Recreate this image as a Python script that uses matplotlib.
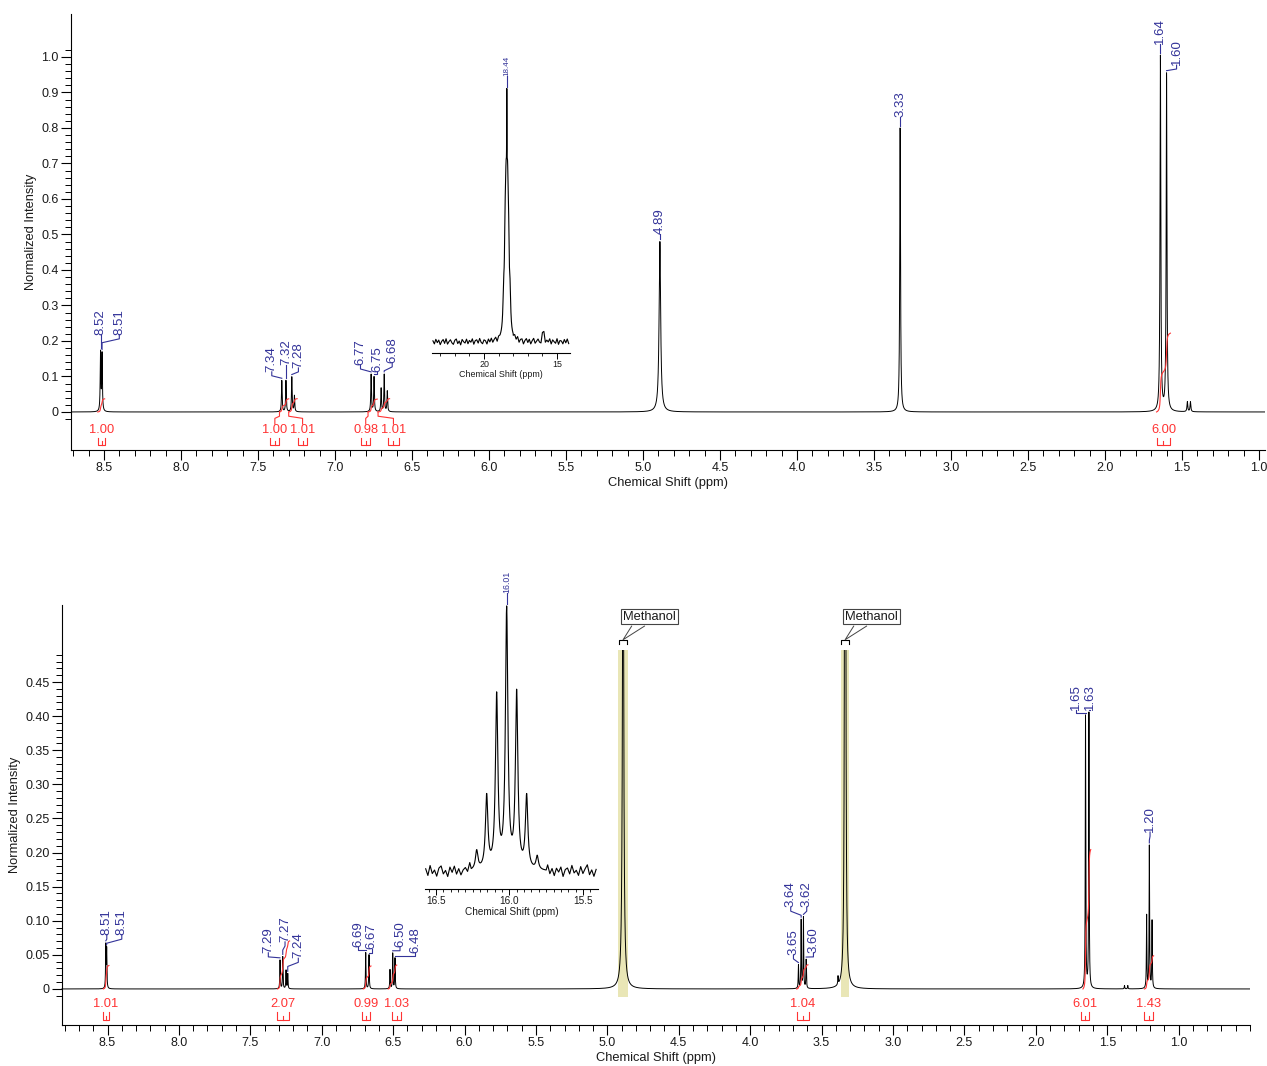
import matplotlib.pyplot as plt
import numpy as np
from matplotlib.patches import Rectangle

plt.rcParams['font.family'] = ['Liberation Sans', 'DejaVu Sans']

BLUE = '#333399'
RED = '#ff3333'
KHAKI = '#e9e6b6'
INK = '#1a1a1a'

# ---------------- upper spectrum: peaks (ppm, height, half width) ----------------
top_shift = [8.522, 8.512, 7.345, 7.318, 7.280, 7.263, 6.765, 6.746, 6.700, 6.680, 6.660,
             4.890, 3.330, 1.640, 1.600, 1.465, 1.445]
top_height = [0.165, 0.160, 0.088, 0.088, 0.098, 0.045, 0.105, 0.098, 0.066, 0.105, 0.058,
              0.480, 0.800, 1.000, 0.950, 0.028, 0.028]
top_width = [0.0025] * 11 + [0.006, 0.003, 0.003, 0.003, 0.003, 0.003]

top_peak_text = ['8.52', '8.51', '7.34', '7.32', '7.28', '6.77', '6.75', '6.68',
                 '4.89', '3.33', '1.64', '1.60']
top_peak_at = [8.522, 8.512, 7.345, 7.318, 7.280, 6.765, 6.746, 6.680, 4.890, 3.330, 1.640, 1.600]

top_int_from = [8.540, 7.360, 7.300, 6.785, 6.720, 1.665]
top_int_to = [8.495, 7.300, 7.245, 6.725, 6.645, 1.575]
top_int_value = ['1.00', '1.00', '1.01', '0.98', '1.01', '6.00']

# inset of the upper spectrum (23.5 - 14 ppm)
ins1_shift = [18.66, 18.56, 18.49, 18.44, 18.39, 18.32, 18.22, 15.95]
ins1_height = [0.12, 0.25, 0.45, 0.37, 0.45, 0.25, 0.12, 0.06]
ins1_width = [0.05, 0.05, 0.06, 0.012, 0.06, 0.05, 0.05, 0.05]
ins1_noise_left = [0.004, -0.008, 0.010, -0.003, 0.007, -0.011, 0.002, 0.009, -0.006, 0.012,
                   -0.009, 0.001, 0.008, -0.004, -0.010, 0.006, 0.011, -0.007, 0.003, -0.012,
                   0.009, 0.000, -0.005, 0.010, -0.008, 0.005, -0.002, 0.011, -0.010, 0.004,
                   0.007, -0.006, 0.012, -0.003, -0.009, 0.006, 0.002, -0.011, 0.008, -0.004,
                   0.010, -0.007, 0.003, 0.009, -0.010, 0.005, -0.001]
ins1_noise_right = [-0.006, 0.009, -0.003, 0.011, -0.009, 0.004, 0.007, -0.012, 0.002, 0.010,
                    -0.005, 0.008, -0.010, 0.003, 0.012, -0.007, 0.001, 0.009, -0.004, -0.011,
                    0.006, 0.010, -0.008, 0.004, -0.002, 0.011, -0.009, 0.007, 0.000, -0.006,
                    0.012, -0.010, 0.005, 0.003, -0.008, 0.009, -0.004, 0.011, -0.007]

# ---------------- lower spectrum ----------------
bot_shift = [8.512, 8.506, 7.292, 7.273, 7.250, 7.238, 6.692, 6.669, 6.522, 6.503, 6.487,
             4.890, 3.662, 3.643, 3.627, 3.608, 3.385, 3.335,
             1.652, 1.628, 1.379, 1.356, 1.224, 1.205, 1.186]
bot_height = [0.062, 0.056, 0.042, 0.047, 0.027, 0.022, 0.053, 0.050, 0.028, 0.052, 0.045,
              0.800, 0.034, 0.100, 0.104, 0.042, 0.012, 3.000,
              0.399, 0.404, 0.005, 0.005, 0.107, 0.209, 0.099]
bot_width = [0.002] * 11 + [0.005] + [0.002] * 5 + [0.0025] + [0.002] * 7

bot_peak_text = ['8.51', '8.51', '7.29', '7.27', '7.24', '6.69', '6.67', '6.50', '6.48',
                 '3.65', '3.64', '3.62', '3.60', '1.65', '1.63', '1.20']
bot_peak_at = [8.512, 8.506, 7.292, 7.273, 7.238, 6.692, 6.669, 6.503, 6.487,
               3.662, 3.643, 3.627, 3.608, 1.652, 1.628, 1.205]

bot_int_from = [8.530, 7.310, 6.710, 6.535, 3.675, 1.670, 1.240]
bot_int_to = [8.490, 7.225, 6.655, 6.475, 3.595, 1.615, 1.175]
bot_int_value = ['1.01', '2.07', '0.99', '1.03', '1.04', '6.01', '1.43']

solvent_shift = [4.890, 3.335]
solvent_name = ['Methanol', 'Methanol']

# inset of the lower spectrum (16.5 - 15.5 ppm)
ins2_shift = [16.223, 16.155, 16.087, 16.019, 15.951, 15.883, 15.811]
ins2_height = [0.07, 0.27, 0.64, 0.96, 0.65, 0.27, 0.05]
ins2_width = [0.010] * 7
ins2_noise_left = [0.010, -0.015, 0.022, -0.008, 0.005, -0.018, 0.012, 0.020, -0.010, 0.003,
                   -0.020, 0.015, -0.005, 0.018, -0.012, 0.008, -0.016, 0.002, 0.010, -0.006, 0.025]
ins2_noise_right = [0.020, -0.012, 0.008, -0.018, 0.010, -0.004, 0.015, -0.020, 0.006, 0.012,
                    -0.010, 0.022, -0.006, 0.004, -0.015, 0.018, -0.008, 0.010, 0.025, -0.012,
                    0.006, -0.018, 0.008]

# ---------------- label layout (ppm / intensity of the label foot) ----------------
top_label_x = [8.522, 8.40, 7.41, 7.318, 7.237, 6.834, 6.726, 6.628, 4.89, 3.33, 1.64, 1.535]
top_label_y = [0.217, 0.217, 0.113, 0.132, 0.124, 0.132, 0.113, 0.138, 0.50, 0.83, 1.035, 0.977]
top_int_lx = [8.515, 7.39, 7.21, 6.80, 6.62, 1.62]
top_int_leader = [False, True, True, True, True, False]

bot_label_x = [8.505, 8.40, 7.374, 7.257, 7.164, 6.744, 6.65, 6.452, 6.347,
               3.697, 3.716, 3.604, 3.557, 1.718, 1.62, 1.20]
bot_label_y = [0.079, 0.079, 0.053, 0.069, 0.045, 0.062, 0.058, 0.062, 0.052,
               0.05, 0.12, 0.12, 0.053, 0.409, 0.409, 0.23]
bot_int_lx = [8.51, 7.27, 6.69, 6.475, 3.63, 1.654, 1.21]
bot_int_leader = [False] * 7

FS_TICK = 9
FS_AXLAB = 9.3
FS_PEAK = 9.5
FS_INT = 9.3


def spectrum(x, shifts, heights, widths):
    y = np.zeros_like(x)
    for c, h, w in zip(shifts, heights, widths):
        y += h / (1 + ((x - c) / w) ** 2)
    return y


def peak_labels(ax, x, y, texts, at, lx, ly, seg, gap, size, lw=0.8):
    for t, p, xl, yl in zip(texts, at, lx, ly):
        i = np.argmin(np.abs(x - p))
        yp = y[max(i - 8, 0):i + 9].max()
        y0 = yp + gap
        y2 = max(yl - seg, y0)
        y1 = max(y0, yl - 2 * seg)
        ax.plot([p, p, xl, xl], [y0, y1, y2, yl], color=BLUE, lw=lw, clip_on=False)
        ax.text(xl, yl, t, rotation=90, ha='center', va='bottom', color=BLUE,
                fontsize=size, clip_on=False)


def integrals(ax, x, y, a_list, b_list, vals, lx, leaders, per_h, ytxt, yb, ylead):
    for a, b, v, xl, lead in zip(a_list, b_list, vals, lx, leaders):
        m = (x <= a) & (x >= b)
        c = np.cumsum(y[m])
        c = c / c[-1] * float(v) * per_h
        ax.plot(x[m], c, color=RED, lw=0.8)
        ax.text(xl, ytxt, v, color=RED, fontsize=FS_INT, ha='center', va='center')
        w = max((a - b) / 2, 0.02)
        ax.plot([xl + w, xl + w, xl - w, xl - w], [yb[0], yb[1], yb[1], yb[0]],
                color=RED, lw=0.8)
        ax.plot([xl, xl], [yb[1], (yb[0] + yb[1]) / 2], color=RED, lw=0.8)
        if lead:
            ax.plot([a, a, xl, xl], [0, ylead[0], ylead[1], ylead[2]], color=RED, lw=0.8)


def style_main(ax, xlim, ylim, yticks, ylabels, yminor):
    for s in ['top', 'right']:
        ax.spines[s].set_visible(False)
    ax.set_xticks(np.arange(1.0, 8.51, 0.5))
    ax.set_xticklabels([f'{v:.1f}' for v in np.arange(1.0, 8.51, 0.5)])
    ax.set_xticks(np.arange(0.5, 9.0, 0.1), minor=True)
    ax.set_yticks(yticks)
    ax.set_yticklabels(ylabels)
    ax.set_yticks(yminor, minor=True)
    ax.set_xlim(*xlim)
    ax.set_ylim(*ylim)
    ax.tick_params(which='major', direction='out', length=7, width=0.8,
                   labelsize=FS_TICK, labelcolor=INK, pad=2)
    ax.tick_params(which='minor', direction='out', length=4, width=0.7)
    ax.set_xlabel('Chemical Shift (ppm)', fontsize=FS_AXLAB, color=INK, labelpad=1.5)
    ax.set_ylabel('Normalized Intensity', fontsize=FS_AXLAB, color=INK, labelpad=3)


fig = plt.figure(figsize=(12.67, 10.66), dpi=100)

# ================= upper panel =================
ax1 = fig.add_axes([0.0560, 0.5779, 0.9424, 0.4090])
x1 = np.linspace(8.714, 0.961, 40000)
y1 = spectrum(x1, top_shift, top_height, top_width)
ax1.plot(x1, y1, color='black', lw=0.7)
style_main(ax1, (8.714, 0.961), (-0.107, 1.121),
           np.round(np.arange(0, 1.01, 0.1), 1),
           ['0'] + [f'{v:.1f}' for v in np.arange(0.1, 1.01, 0.1)],
           np.arange(-0.02, 1.03, 0.02))
peak_labels(ax1, x1, y1, top_peak_text, top_peak_at, top_label_x, top_label_y,
            seg=0.011, gap=0.006, size=FS_PEAK)
integrals(ax1, x1, y1, top_int_from, top_int_to, top_int_value, top_int_lx, top_int_leader,
          0.037, -0.05, (-0.072, -0.092), (-0.012, -0.018, -0.034))

# inset of the upper panel
ia1 = fig.add_axes([0.3410, 0.6689, 0.1089, 0.2561], facecolor='none')
nl = np.linspace(23.5, 18.9, len(ins1_noise_left))
nr = np.linspace(18.0, 14.2, len(ins1_noise_right))
fine = np.linspace(18.9, 18.0, 800)
xi1 = np.concatenate([nl, fine, nr])
yi1 = spectrum(xi1, ins1_shift, ins1_height, ins1_width) + np.concatenate(
    [ins1_noise_left, np.zeros_like(fine), ins1_noise_right])
ia1.plot(xi1, yi1, color='black', lw=0.8)

# ================= lower panel =================
ax2 = fig.add_axes([0.0489, 0.0385, 0.9377, 0.3940])
x2 = np.linspace(8.819, 0.50, 40000)
y2 = spectrum(x2, bot_shift, bot_height, bot_width)
for pos in solvent_shift:
    hw = 0.035 if pos > 4 else 0.028
    ax2.add_patch(Rectangle((pos - hw, -0.012), 2 * hw, 0.509, color=KHAKI, lw=0, zorder=0))
line2, = ax2.plot(x2, y2, color='black', lw=0.7)
line2.set_clip_path(Rectangle((0.5, -0.06), 8.4, 0.557, transform=ax2.transData))
style_main(ax2, (8.819, 0.50), (-0.0528, 0.563),
           np.round(np.arange(0, 0.451, 0.05), 2),
           ['0'] + [f'{v:.2f}' for v in np.arange(0.05, 0.451, 0.05)],
           np.arange(-0.01, 0.495, 0.01))
peak_labels(ax2, x2, y2, bot_peak_text, bot_peak_at, bot_label_x, bot_label_y,
            seg=0.006, gap=0.003, size=FS_PEAK)
integrals(ax2, x2, y2, bot_int_from, bot_int_to, bot_int_value, bot_int_lx, bot_int_leader,
          0.034, -0.022, (-0.034, -0.045), None)

for pos, name in zip(solvent_shift, solvent_name):
    d = 0.03
    ax2.plot([pos + d, pos + d, pos - d, pos - d], [0.506, 0.512, 0.512, 0.506],
             color='black', lw=0.8)
    ax2.plot([pos - 0.06, pos, pos - 0.15], [0.532, 0.512, 0.532], color='#444444', lw=0.7)
    ax2.text(pos, 0.546, name, fontsize=9.3, ha='left', va='center', color=INK,
             bbox=dict(boxstyle='square,pad=0.15', fc='white', ec='#444444', lw=0.8))

# inset of the lower panel
ia2 = fig.add_axes([0.3354, 0.1660, 0.1365, 0.2730], facecolor='none')
nl2 = np.linspace(16.57, 16.27, len(ins2_noise_left))
nr2 = np.linspace(15.74, 15.41, len(ins2_noise_right))
fine2 = np.linspace(16.26, 15.75, 600)
xi2 = np.concatenate([nl2, fine2, nr2])
yi2 = spectrum(xi2, ins2_shift, ins2_height, ins2_width) + np.concatenate(
    [ins2_noise_left, np.zeros_like(fine2), ins2_noise_right])
ia2.plot(xi2, yi2, color='black', lw=0.8)

for ia, major, minor, fs, xlim, ylim in [
        (ia1, [20, 15], np.arange(15, 24, 1.0), 6.4, (23.56, 14.11), (-0.043, 1.02)),
        (ia2, [16.5, 16.0, 15.5], np.arange(15.45, 16.56, 0.05), 7.2, (16.575, 15.398), (-0.0645, 1.02))]:
    ia.yaxis.set_visible(False)
    for s in ['top', 'right', 'left']:
        ia.spines[s].set_visible(False)
    ia.spines['bottom'].set_linewidth(0.8)
    ia.set_xticks(major)
    ia.set_xticklabels([f'{v:g}' if len(major) == 2 else f'{v:.1f}' for v in major])
    ia.set_xticks(minor, minor=True)
    ia.set_xlim(*xlim)
    ia.set_ylim(*ylim)
    ia.tick_params(which='major', direction='out', length=4, width=0.7,
                   labelsize=fs, labelcolor=INK, pad=1)
    ia.tick_params(which='minor', direction='out', length=2.5, width=0.6)
    ia.set_xlabel('Chemical Shift (ppm)', fontsize=fs, color=INK, labelpad=1)

peak_labels(ia1, xi1, yi1, ['18.44'], [18.44], [18.44], [1.035], seg=0.012, gap=0.008, size=5.8)
peak_labels(ia2, xi2, yi2, ['16.01'], [16.019], [16.019], [1.04], seg=0.012, gap=0.008, size=6.3)

fig.savefig('out.png', dpi=100)
